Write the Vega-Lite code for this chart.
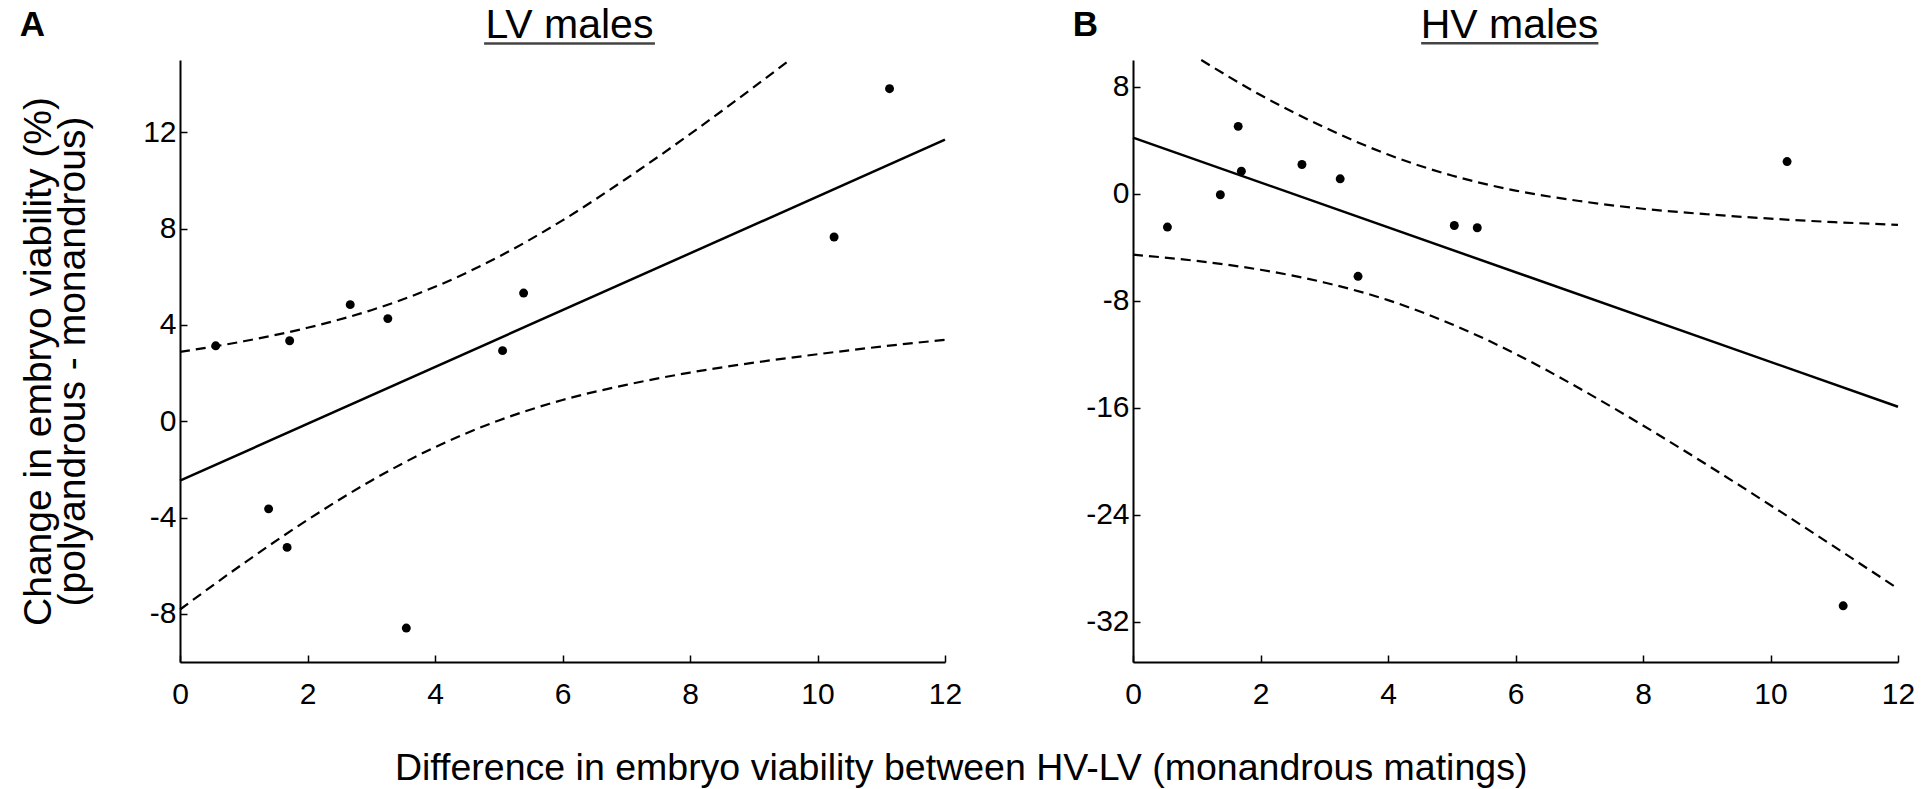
{
  "$schema": "https://vega.github.io/schema/vega-lite/v6.json",
  "padding": {"left": 19, "right": 0, "top": 5, "bottom": 4},
  "background": "white",
  "title": {
    "text": "Difference in embryo viability between HV-LV (monandrous matings)",
    "orient": "bottom",
    "anchor": "middle",
    "fontSize": 37.5,
    "fontWeight": "normal",
    "font": "Liberation Sans",
    "color": "black",
    "offset": 41,
    "dx": -6
  },
  "datasets": {
    "ptsA": [
      {"x": 0.56, "y": 3.13},
      {"x": 1.39, "y": -3.64},
      {"x": 1.68, "y": -5.24},
      {"x": 1.72, "y": 3.34},
      {"x": 2.67, "y": 4.84},
      {"x": 3.26, "y": 4.26},
      {"x": 3.55, "y": -8.59},
      {"x": 5.06, "y": 2.93},
      {"x": 5.39, "y": 5.32},
      {"x": 10.26, "y": 7.65},
      {"x": 11.13, "y": 13.81}
    ],
    "fitA": [
      {"x": 0, "y": -2.47},
      {"x": 12, "y": 11.69}
    ],
    "bandA": [
      {"x": 0, "y": 2.88, "part": "upper"},
      {"x": 1, "y": 3.32, "part": "upper"},
      {"x": 2, "y": 3.88, "part": "upper"},
      {"x": 3, "y": 4.61, "part": "upper"},
      {"x": 4, "y": 5.58, "part": "upper"},
      {"x": 5, "y": 6.83, "part": "upper"},
      {"x": 6, "y": 8.34, "part": "upper"},
      {"x": 7, "y": 10.07, "part": "upper"},
      {"x": 8, "y": 11.92, "part": "upper"},
      {"x": 9, "y": 13.87, "part": "upper"},
      {"x": 9.55, "y": 14.97, "part": "upper"},
      {"x": 0, "y": -7.82, "part": "lower"},
      {"x": 1, "y": -5.9, "part": "lower"},
      {"x": 2, "y": -4.1, "part": "lower"},
      {"x": 3, "y": -2.47, "part": "lower"},
      {"x": 4, "y": -1.08, "part": "lower"},
      {"x": 5, "y": 0.03, "part": "lower"},
      {"x": 6, "y": 0.88, "part": "lower"},
      {"x": 7, "y": 1.51, "part": "lower"},
      {"x": 8, "y": 2.02, "part": "lower"},
      {"x": 9, "y": 2.43, "part": "lower"},
      {"x": 10, "y": 2.78, "part": "lower"},
      {"x": 11, "y": 3.1, "part": "lower"},
      {"x": 12, "y": 3.38, "part": "lower"}
    ],
    "ptsB": [
      {"x": 0.54, "y": -2.49},
      {"x": 1.37, "y": -0.07},
      {"x": 1.65, "y": 5.04},
      {"x": 1.7, "y": 1.69},
      {"x": 2.65, "y": 2.19},
      {"x": 3.25, "y": 1.12},
      {"x": 3.53, "y": -6.17},
      {"x": 5.04, "y": -2.37},
      {"x": 5.4, "y": -2.54},
      {"x": 10.26, "y": 2.41},
      {"x": 11.14, "y": -30.8}
    ],
    "fitB": [
      {"x": 0, "y": 4.2},
      {"x": 12, "y": -15.92}
    ],
    "bandB": [
      {"x": 1.07, "y": 10.0, "part": "upper"},
      {"x": 2, "y": 7.38, "part": "upper"},
      {"x": 3, "y": 4.97, "part": "upper"},
      {"x": 4, "y": 2.93, "part": "upper"},
      {"x": 5, "y": 1.37, "part": "upper"},
      {"x": 6, "y": 0.24, "part": "upper"},
      {"x": 7, "y": -0.54, "part": "upper"},
      {"x": 8, "y": -1.12, "part": "upper"},
      {"x": 9, "y": -1.53, "part": "upper"},
      {"x": 10, "y": -1.86, "part": "upper"},
      {"x": 11, "y": -2.12, "part": "upper"},
      {"x": 12, "y": -2.32, "part": "upper"},
      {"x": 0, "y": -4.55, "part": "lower"},
      {"x": 1, "y": -5.02, "part": "lower"},
      {"x": 2, "y": -5.68, "part": "lower"},
      {"x": 3, "y": -6.63, "part": "lower"},
      {"x": 4, "y": -7.95, "part": "lower"},
      {"x": 5, "y": -9.75, "part": "lower"},
      {"x": 6, "y": -11.96, "part": "lower"},
      {"x": 7, "y": -14.54, "part": "lower"},
      {"x": 8, "y": -17.32, "part": "lower"},
      {"x": 9, "y": -20.25, "part": "lower"},
      {"x": 10, "y": -23.28, "part": "lower"},
      {"x": 11, "y": -26.38, "part": "lower"},
      {"x": 12, "y": -29.52, "part": "lower"}
    ]
  },
  "spacing": 110,
  "hconcat": [
    {
      "title": {"text": "A", "anchor": "start", "frame": "bounds", "fontSize": 35, "fontWeight": "bold", "color": "black", "dy": 42},
      "vconcat": [
        {
          "width": 765,
          "height": 602,
          "title": {"text": "LV males", "fontSize": 41, "anchor": "middle", "offset": -5, "dx": 7, "color": "black", "fontWeight": "normal"},
          "layer": [
            {
              "data": {"name": "bandA"},
              "mark": {"type": "line", "color": "black", "strokeWidth": 2.2, "strokeDash": [10, 6], "interpolate": "monotone"},
              "encoding": {
                "x": {"field": "x", "type": "quantitative", "scale": {"domain": [0, 12], "nice": false, "zero": false}, "axis": {"values": [0, 2, 4, 6, 8, 10, 12], "format": "d", "title": null}},
                "y": {"field": "y", "type": "quantitative", "scale": {"domain": [-10, 15], "nice": false, "zero": false}, "axis": {"values": [-8, -4, 0, 4, 8, 12], "labelExpr": "replace(datum.label, '\u2212', '-')", "title": ["Change in embryo viability (%)", "(polyandrous - monandrous)"], "titleFontSize": 39, "titleLineHeight": 34, "titlePadding": 50}},
                "detail": {"field": "part"}
              }
            },
            {
              "data": {"name": "fitA"},
              "mark": {"type": "line", "color": "black", "strokeWidth": 2.5},
              "encoding": {"x": {"field": "x", "type": "quantitative"}, "y": {"field": "y", "type": "quantitative"}}
            },
            {
              "data": {"name": "ptsA"},
              "mark": {"type": "point", "filled": true, "color": "black", "opacity": 1, "size": 80},
              "encoding": {"x": {"field": "x", "type": "quantitative"}, "y": {"field": "y", "type": "quantitative"}}
            },
            {
              "data": {"values": [{}]},
              "mark": {"type": "rule", "color": "#444", "strokeWidth": 2.5},
              "encoding": {"x": {"datum": 4.77}, "x2": {"datum": 7.45}, "y": {"datum": 15.69}}
            }
          ]
        }
      ]
    },
    {
      "title": {"text": "B", "anchor": "start", "frame": "bounds", "fontSize": 35, "fontWeight": "bold", "color": "black", "dy": 42, "dx": -13},
      "vconcat": [
        {
          "width": 765,
          "height": 602,
          "title": {"text": "HV males", "fontSize": 41, "anchor": "middle", "offset": -5, "dx": -6, "color": "black", "fontWeight": "normal"},
          "layer": [
            {
              "data": {"name": "bandB"},
              "mark": {"type": "line", "color": "black", "strokeWidth": 2.2, "strokeDash": [10, 6], "interpolate": "monotone"},
              "encoding": {
                "x": {"field": "x", "type": "quantitative", "scale": {"domain": [0, 12], "nice": false, "zero": false}, "axis": {"values": [0, 2, 4, 6, 8, 10, 12], "format": "d", "title": null}},
                "y": {"field": "y", "type": "quantitative", "scale": {"domain": [-35, 10], "nice": false, "zero": false}, "axis": {"values": [-32, -24, -16, -8, 0, 8], "labelExpr": "replace(datum.label, '\u2212', '-')", "title": null}},
                "detail": {"field": "part"}
              }
            },
            {
              "data": {"name": "fitB"},
              "mark": {"type": "line", "color": "black", "strokeWidth": 2.5},
              "encoding": {"x": {"field": "x", "type": "quantitative"}, "y": {"field": "y", "type": "quantitative"}}
            },
            {
              "data": {"name": "ptsB"},
              "mark": {"type": "point", "filled": true, "color": "black", "opacity": 1, "size": 80},
              "encoding": {"x": {"field": "x", "type": "quantitative"}, "y": {"field": "y", "type": "quantitative"}}
            },
            {
              "data": {"values": [{}]},
              "mark": {"type": "rule", "color": "#444", "strokeWidth": 2.5},
              "encoding": {"x": {"datum": 4.52}, "x2": {"datum": 7.3}, "y": {"datum": 11.25}}
            }
          ]
        }
      ]
    }
  ],
  "config": {
    "view": {"stroke": null},
    "font": "Liberation Sans",
    "title": {"font": "Liberation Sans", "color": "black"},
    "axis": {
      "grid": false,
      "domainColor": "black",
      "domainWidth": 2,
      "tickColor": "black",
      "tickWidth": 1.5,
      "tickSize": -7,
      "labelFont": "Liberation Sans",
      "labelFontSize": 30,
      "labelColor": "black",
      "labelFlush": false,
      "titleFont": "Liberation Sans",
      "titleFontSize": 37,
      "titleFontWeight": "normal",
      "titleColor": "black"
    },
    "axisX": {"labelPadding": 24},
    "axisY": {"labelPadding": 11}
  }
}
